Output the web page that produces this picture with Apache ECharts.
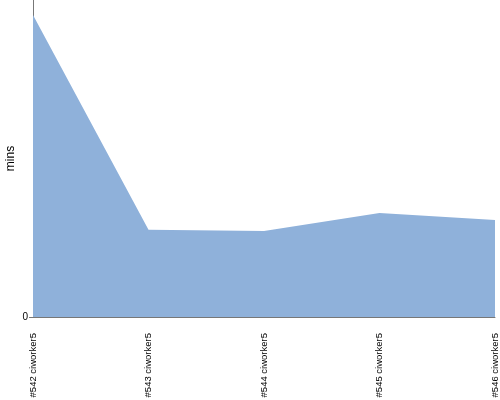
<!DOCTYPE html>
<html><head><meta charset="utf-8">
<script src="https://cdn.jsdelivr.net/npm/echarts@6/dist/echarts.min.js"></script>
<style>html,body{margin:0;padding:0;background:#fff}#c{width:500px;height:400px}</style>
</head><body><div id="c"></div>
<script>
const categories = ['#542 ciworker5', '#543 ciworker5', '#544 ciworker5', '#545 ciworker5', '#546 ciworker5'];
const durations = [9.53, 2.75, 2.71, 3.28, 3.06];
const yMax = 10;

const chart = echarts.init(document.getElementById('c'), null, {renderer: 'canvas'});
chart.setOption({
  animation: false,
  grid: {left: 33, right: 5, top: 0, bottom: 83, containLabel: false, outerBoundsMode: 'none'},
  xAxis: {
    type: 'category', data: categories, boundaryGap: false,
    axisLine: {lineStyle: {color: '#777', width: 1}},
    axisTick: {show: false},
    axisLabel: {rotate: 90, margin: 16, fontSize: 9.5, color: '#000', fontFamily: 'Liberation Sans', interval: 0}
  },
  yAxis: {
    type: 'value', min: 0, max: yMax, interval: yMax,
    name: 'mins', nameLocation: 'middle', nameGap: 16, nameRotate: 90, nameMoveOverlap: false,
    nameTextStyle: {fontSize: 12, color: '#000', fontFamily: 'Liberation Sans'},
    axisLine: {show: true, lineStyle: {color: '#777', width: 1}},
    axisTick: {show: true, length: 4, customValues: [0], lineStyle: {color: '#777'}},
    axisLabel: {customValues: [0], fontSize: 10, color: '#000', margin: 5, fontFamily: 'Liberation Sans'},
    splitLine: {show: false}
  },
  series: [{
    type: 'line', data: durations, symbol: 'none',
    lineStyle: {width: 0, color: '#8fb1da'},
    itemStyle: {color: '#8fb1da'},
    areaStyle: {color: '#8fb1da', opacity: 1}
  }]
});
</script></body></html>
